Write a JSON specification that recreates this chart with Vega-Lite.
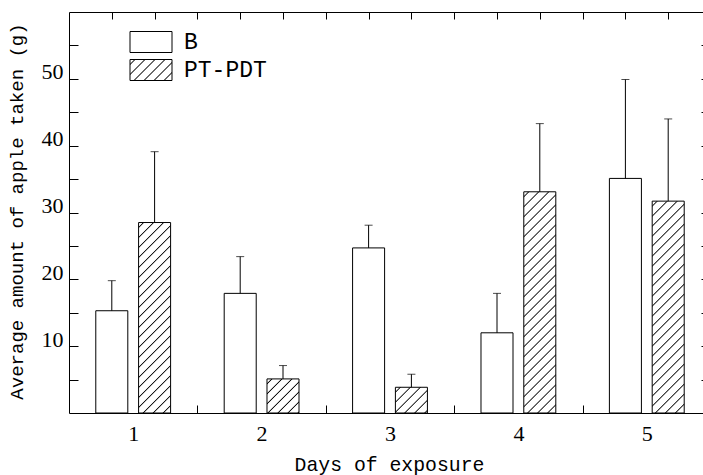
{
  "$schema": "https://vega.github.io/schema/vega-lite/v6.json",
  "autosize": {"type": "none"},
  "padding": {"left": 69, "top": 12, "right": 0, "bottom": 62},
  "width": 634,
  "height": 401,
  "background": "white",
  "data": {"values": [
    {"day": 1, "group": "B", "mean": 15.3, "upper": 19.8},
    {"day": 1, "group": "PT-PDT", "mean": 28.5, "upper": 39.1},
    {"day": 2, "group": "B", "mean": 17.9, "upper": 23.4},
    {"day": 2, "group": "PT-PDT", "mean": 5.1, "upper": 7.1},
    {"day": 3, "group": "B", "mean": 24.7, "upper": 28.1},
    {"day": 3, "group": "PT-PDT", "mean": 3.85, "upper": 5.8},
    {"day": 4, "group": "B", "mean": 12.0, "upper": 17.9},
    {"day": 4, "group": "PT-PDT", "mean": 33.1, "upper": 43.3},
    {"day": 5, "group": "B", "mean": 35.1, "upper": 49.9},
    {"day": 5, "group": "PT-PDT", "mean": 31.7, "upper": 44.0}
  ]},
  "resolve": {"scale": {"x": "independent"}, "axis": {"x": "independent", "y": "independent"}},
  "layer": [
    {
      "mark": {"type": "bar", "stroke": "black", "strokeWidth": 1},
      "encoding": {
        "x": {"field": "day", "type": "ordinal", "scale": {"range": [0, 642], "paddingInner": 0, "paddingOuter": 0}, "axis": null},
        "xOffset": {"field": "group", "type": "nominal", "scale": {"paddingInner": 0.252, "paddingOuter": 0.626}},
        "y": {"field": "mean", "type": "quantitative", "scale": {"domain": [0, 60], "nice": false},
          "axis": {"orient": "left", "values": [5, 10, 15, 20, 25, 30, 35, 40, 45, 50, 55], "tickSize": -9,
            "labelExpr": "datum.value % 10 == 0 ? datum.label : ''", "labelFont": "Liberation Serif", "labelFontSize": 22,
            "labelPadding": 15, "labelBaseline": "alphabetic", "labelOverlap": false, "labelBound": false,
            "title": "Average amount of apple taken (g)", "titleFont": "Liberation Mono", "titleFontSize": 19, "titleFontWeight": "normal",
            "titleX": -47, "titleY": 199, "titleBaseline": "alphabetic", "titleAlign": "center", "titleAngle": -90}},
        "fill": {
          "field": "group", "type": "nominal",
          "scale": {"range": ["#ffffff", {"expr": "{gradient: 'linear', x1: 0, y1: 0, x2: 1.219, y2: 0.6095, stops: [{offset: 0.05938, color: '#fff'}, {offset: 0.07813, color: '#000'}, {offset: 0.09688, color: '#fff'}, {offset: 0.21563, color: '#fff'}, {offset: 0.23438, color: '#000'}, {offset: 0.25313, color: '#fff'}, {offset: 0.37188, color: '#fff'}, {offset: 0.39063, color: '#000'}, {offset: 0.40938, color: '#fff'}, {offset: 0.52813, color: '#fff'}, {offset: 0.54688, color: '#000'}, {offset: 0.56563, color: '#fff'}, {offset: 0.68438, color: '#fff'}, {offset: 0.70313, color: '#000'}, {offset: 0.72188, color: '#fff'}, {offset: 0.84063, color: '#fff'}, {offset: 0.85938, color: '#000'}, {offset: 0.87813, color: '#fff'}]}"}]},
          "legend": {"orient": "none", "legendX": 70.5, "legendY": 18.5, "title": null, "padding": 0,
            "symbolType": "M-2,-1H2V1H-2Z", "symbolSize": 441, "symbolStrokeColor": "black", "symbolStrokeWidth": 1,
            "labelFont": "Liberation Mono", "labelFontSize": 23, "labelColor": "black", "labelOffset": 21.5, "rowPadding": 3},
          "condition": [
            {"test": "datum.group == 'PT-PDT' && datum.day == 1", "value": {"gradient": "linear", "x1": 0, "y1": 0, "x2": 0.2195, "y2": 1.307, "stops": [
              {"offset": 0.01484, "color": "#fff"}, {"offset": 0.01953, "color": "#000"}, {"offset": 0.02422, "color": "#fff"},
              {"offset": 0.05391, "color": "#fff"}, {"offset": 0.05859, "color": "#000"}, {"offset": 0.06328, "color": "#fff"},
              {"offset": 0.09297, "color": "#fff"}, {"offset": 0.09766, "color": "#000"}, {"offset": 0.10234, "color": "#fff"},
              {"offset": 0.13203, "color": "#fff"}, {"offset": 0.13672, "color": "#000"}, {"offset": 0.14141, "color": "#fff"},
              {"offset": 0.17109, "color": "#fff"}, {"offset": 0.17578, "color": "#000"}, {"offset": 0.18047, "color": "#fff"},
              {"offset": 0.21016, "color": "#fff"}, {"offset": 0.21484, "color": "#000"}, {"offset": 0.21953, "color": "#fff"},
              {"offset": 0.24922, "color": "#fff"}, {"offset": 0.25391, "color": "#000"}, {"offset": 0.25859, "color": "#fff"},
              {"offset": 0.28828, "color": "#fff"}, {"offset": 0.29297, "color": "#000"}, {"offset": 0.29766, "color": "#fff"},
              {"offset": 0.32734, "color": "#fff"}, {"offset": 0.33203, "color": "#000"}, {"offset": 0.33672, "color": "#fff"},
              {"offset": 0.36641, "color": "#fff"}, {"offset": 0.37109, "color": "#000"}, {"offset": 0.37578, "color": "#fff"},
              {"offset": 0.40547, "color": "#fff"}, {"offset": 0.41016, "color": "#000"}, {"offset": 0.41484, "color": "#fff"},
              {"offset": 0.44453, "color": "#fff"}, {"offset": 0.44922, "color": "#000"}, {"offset": 0.45391, "color": "#fff"},
              {"offset": 0.48359, "color": "#fff"}, {"offset": 0.48828, "color": "#000"}, {"offset": 0.49297, "color": "#fff"},
              {"offset": 0.52266, "color": "#fff"}, {"offset": 0.52734, "color": "#000"}, {"offset": 0.53203, "color": "#fff"},
              {"offset": 0.56172, "color": "#fff"}, {"offset": 0.56641, "color": "#000"}, {"offset": 0.57109, "color": "#fff"},
              {"offset": 0.60078, "color": "#fff"}, {"offset": 0.60547, "color": "#000"}, {"offset": 0.61016, "color": "#fff"},
              {"offset": 0.63984, "color": "#fff"}, {"offset": 0.64453, "color": "#000"}, {"offset": 0.64922, "color": "#fff"},
              {"offset": 0.67891, "color": "#fff"}, {"offset": 0.68359, "color": "#000"}, {"offset": 0.68828, "color": "#fff"},
              {"offset": 0.71797, "color": "#fff"}, {"offset": 0.72266, "color": "#000"}, {"offset": 0.72734, "color": "#fff"},
              {"offset": 0.75703, "color": "#fff"}, {"offset": 0.76172, "color": "#000"}, {"offset": 0.76641, "color": "#fff"},
              {"offset": 0.79609, "color": "#fff"}, {"offset": 0.80078, "color": "#000"}, {"offset": 0.80547, "color": "#fff"},
              {"offset": 0.83516, "color": "#fff"}, {"offset": 0.83984, "color": "#000"}, {"offset": 0.84453, "color": "#fff"},
              {"offset": 0.87422, "color": "#fff"}, {"offset": 0.87891, "color": "#000"}, {"offset": 0.88359, "color": "#fff"}
            ]}},
            {"test": "datum.group == 'PT-PDT' && datum.day == 2", "value": {"gradient": "linear", "x1": 0, "y1": 0, "x2": 3.746, "y2": 3.992, "stops": [
              {"offset": 0.01484, "color": "#fff"}, {"offset": 0.01953, "color": "#000"}, {"offset": 0.02422, "color": "#fff"},
              {"offset": 0.05391, "color": "#fff"}, {"offset": 0.05859, "color": "#000"}, {"offset": 0.06328, "color": "#fff"},
              {"offset": 0.09297, "color": "#fff"}, {"offset": 0.09766, "color": "#000"}, {"offset": 0.10234, "color": "#fff"},
              {"offset": 0.13203, "color": "#fff"}, {"offset": 0.13672, "color": "#000"}, {"offset": 0.14141, "color": "#fff"},
              {"offset": 0.17109, "color": "#fff"}, {"offset": 0.17578, "color": "#000"}, {"offset": 0.18047, "color": "#fff"},
              {"offset": 0.21016, "color": "#fff"}, {"offset": 0.21484, "color": "#000"}, {"offset": 0.21953, "color": "#fff"},
              {"offset": 0.24922, "color": "#fff"}, {"offset": 0.25391, "color": "#000"}, {"offset": 0.25859, "color": "#fff"}
            ]}},
            {"test": "datum.group == 'PT-PDT' && datum.day == 3", "value": {"gradient": "linear", "x1": 0, "y1": 0, "x2": 4.863, "y2": 3.906, "stops": [
              {"offset": 0.01484, "color": "#fff"}, {"offset": 0.01953, "color": "#000"}, {"offset": 0.02422, "color": "#fff"},
              {"offset": 0.05391, "color": "#fff"}, {"offset": 0.05859, "color": "#000"}, {"offset": 0.06328, "color": "#fff"},
              {"offset": 0.09297, "color": "#fff"}, {"offset": 0.09766, "color": "#000"}, {"offset": 0.10234, "color": "#fff"},
              {"offset": 0.13203, "color": "#fff"}, {"offset": 0.13672, "color": "#000"}, {"offset": 0.14141, "color": "#fff"},
              {"offset": 0.17109, "color": "#fff"}, {"offset": 0.17578, "color": "#000"}, {"offset": 0.18047, "color": "#fff"},
              {"offset": 0.21016, "color": "#fff"}, {"offset": 0.21484, "color": "#000"}, {"offset": 0.21953, "color": "#fff"}
            ]}},
            {"test": "datum.group == 'PT-PDT' && datum.day == 4", "value": {"gradient": "linear", "x1": 0, "y1": 0, "x2": 0.164, "y2": 1.1336, "stops": [
              {"offset": 0.01484, "color": "#fff"}, {"offset": 0.01953, "color": "#000"}, {"offset": 0.02422, "color": "#fff"},
              {"offset": 0.05391, "color": "#fff"}, {"offset": 0.05859, "color": "#000"}, {"offset": 0.06328, "color": "#fff"},
              {"offset": 0.09297, "color": "#fff"}, {"offset": 0.09766, "color": "#000"}, {"offset": 0.10234, "color": "#fff"},
              {"offset": 0.13203, "color": "#fff"}, {"offset": 0.13672, "color": "#000"}, {"offset": 0.14141, "color": "#fff"},
              {"offset": 0.17109, "color": "#fff"}, {"offset": 0.17578, "color": "#000"}, {"offset": 0.18047, "color": "#fff"},
              {"offset": 0.21016, "color": "#fff"}, {"offset": 0.21484, "color": "#000"}, {"offset": 0.21953, "color": "#fff"},
              {"offset": 0.24922, "color": "#fff"}, {"offset": 0.25391, "color": "#000"}, {"offset": 0.25859, "color": "#fff"},
              {"offset": 0.28828, "color": "#fff"}, {"offset": 0.29297, "color": "#000"}, {"offset": 0.29766, "color": "#fff"},
              {"offset": 0.32734, "color": "#fff"}, {"offset": 0.33203, "color": "#000"}, {"offset": 0.33672, "color": "#fff"},
              {"offset": 0.36641, "color": "#fff"}, {"offset": 0.37109, "color": "#000"}, {"offset": 0.37578, "color": "#fff"},
              {"offset": 0.40547, "color": "#fff"}, {"offset": 0.41016, "color": "#000"}, {"offset": 0.41484, "color": "#fff"},
              {"offset": 0.44453, "color": "#fff"}, {"offset": 0.44922, "color": "#000"}, {"offset": 0.45391, "color": "#fff"},
              {"offset": 0.48359, "color": "#fff"}, {"offset": 0.48828, "color": "#000"}, {"offset": 0.49297, "color": "#fff"},
              {"offset": 0.52266, "color": "#fff"}, {"offset": 0.52734, "color": "#000"}, {"offset": 0.53203, "color": "#fff"},
              {"offset": 0.56172, "color": "#fff"}, {"offset": 0.56641, "color": "#000"}, {"offset": 0.57109, "color": "#fff"},
              {"offset": 0.60078, "color": "#fff"}, {"offset": 0.60547, "color": "#000"}, {"offset": 0.61016, "color": "#fff"},
              {"offset": 0.63984, "color": "#fff"}, {"offset": 0.64453, "color": "#000"}, {"offset": 0.64922, "color": "#fff"},
              {"offset": 0.67891, "color": "#fff"}, {"offset": 0.68359, "color": "#000"}, {"offset": 0.68828, "color": "#fff"},
              {"offset": 0.71797, "color": "#fff"}, {"offset": 0.72266, "color": "#000"}, {"offset": 0.72734, "color": "#fff"},
              {"offset": 0.75703, "color": "#fff"}, {"offset": 0.76172, "color": "#000"}, {"offset": 0.76641, "color": "#fff"},
              {"offset": 0.79609, "color": "#fff"}, {"offset": 0.80078, "color": "#000"}, {"offset": 0.80547, "color": "#fff"},
              {"offset": 0.83516, "color": "#fff"}, {"offset": 0.83984, "color": "#000"}, {"offset": 0.84453, "color": "#fff"},
              {"offset": 0.87422, "color": "#fff"}, {"offset": 0.87891, "color": "#000"}, {"offset": 0.88359, "color": "#fff"},
              {"offset": 0.91328, "color": "#fff"}, {"offset": 0.91797, "color": "#000"}, {"offset": 0.92266, "color": "#fff"},
              {"offset": 0.95234, "color": "#fff"}, {"offset": 0.95703, "color": "#000"}, {"offset": 0.96172, "color": "#fff"},
              {"offset": 0.99141, "color": "#fff"}, {"offset": 0.99609, "color": "#000"}, {"offset": 1, "color": "#fff"}
            ]}},
            {"test": "datum.group == 'PT-PDT' && datum.day == 5", "value": {"gradient": "linear", "x1": 0, "y1": 0, "x2": 0.1784, "y2": 1.1812, "stops": [
              {"offset": 0.01484, "color": "#fff"}, {"offset": 0.01953, "color": "#000"}, {"offset": 0.02422, "color": "#fff"},
              {"offset": 0.05391, "color": "#fff"}, {"offset": 0.05859, "color": "#000"}, {"offset": 0.06328, "color": "#fff"},
              {"offset": 0.09297, "color": "#fff"}, {"offset": 0.09766, "color": "#000"}, {"offset": 0.10234, "color": "#fff"},
              {"offset": 0.13203, "color": "#fff"}, {"offset": 0.13672, "color": "#000"}, {"offset": 0.14141, "color": "#fff"},
              {"offset": 0.17109, "color": "#fff"}, {"offset": 0.17578, "color": "#000"}, {"offset": 0.18047, "color": "#fff"},
              {"offset": 0.21016, "color": "#fff"}, {"offset": 0.21484, "color": "#000"}, {"offset": 0.21953, "color": "#fff"},
              {"offset": 0.24922, "color": "#fff"}, {"offset": 0.25391, "color": "#000"}, {"offset": 0.25859, "color": "#fff"},
              {"offset": 0.28828, "color": "#fff"}, {"offset": 0.29297, "color": "#000"}, {"offset": 0.29766, "color": "#fff"},
              {"offset": 0.32734, "color": "#fff"}, {"offset": 0.33203, "color": "#000"}, {"offset": 0.33672, "color": "#fff"},
              {"offset": 0.36641, "color": "#fff"}, {"offset": 0.37109, "color": "#000"}, {"offset": 0.37578, "color": "#fff"},
              {"offset": 0.40547, "color": "#fff"}, {"offset": 0.41016, "color": "#000"}, {"offset": 0.41484, "color": "#fff"},
              {"offset": 0.44453, "color": "#fff"}, {"offset": 0.44922, "color": "#000"}, {"offset": 0.45391, "color": "#fff"},
              {"offset": 0.48359, "color": "#fff"}, {"offset": 0.48828, "color": "#000"}, {"offset": 0.49297, "color": "#fff"},
              {"offset": 0.52266, "color": "#fff"}, {"offset": 0.52734, "color": "#000"}, {"offset": 0.53203, "color": "#fff"},
              {"offset": 0.56172, "color": "#fff"}, {"offset": 0.56641, "color": "#000"}, {"offset": 0.57109, "color": "#fff"},
              {"offset": 0.60078, "color": "#fff"}, {"offset": 0.60547, "color": "#000"}, {"offset": 0.61016, "color": "#fff"},
              {"offset": 0.63984, "color": "#fff"}, {"offset": 0.64453, "color": "#000"}, {"offset": 0.64922, "color": "#fff"},
              {"offset": 0.67891, "color": "#fff"}, {"offset": 0.68359, "color": "#000"}, {"offset": 0.68828, "color": "#fff"},
              {"offset": 0.71797, "color": "#fff"}, {"offset": 0.72266, "color": "#000"}, {"offset": 0.72734, "color": "#fff"},
              {"offset": 0.75703, "color": "#fff"}, {"offset": 0.76172, "color": "#000"}, {"offset": 0.76641, "color": "#fff"},
              {"offset": 0.79609, "color": "#fff"}, {"offset": 0.80078, "color": "#000"}, {"offset": 0.80547, "color": "#fff"},
              {"offset": 0.83516, "color": "#fff"}, {"offset": 0.83984, "color": "#000"}, {"offset": 0.84453, "color": "#fff"},
              {"offset": 0.87422, "color": "#fff"}, {"offset": 0.87891, "color": "#000"}, {"offset": 0.88359, "color": "#fff"},
              {"offset": 0.91328, "color": "#fff"}, {"offset": 0.91797, "color": "#000"}, {"offset": 0.92266, "color": "#fff"},
              {"offset": 0.95234, "color": "#fff"}, {"offset": 0.95703, "color": "#000"}, {"offset": 0.96172, "color": "#fff"}
            ]}}
          ]
        }
      }
    },
    {
      "mark": {"type": "rule", "color": "black", "strokeWidth": 1},
      "encoding": {
        "x": {"field": "day", "type": "ordinal", "scale": {"range": [0, 642], "paddingInner": 0, "paddingOuter": 0}, "axis": null},
        "xOffset": {"field": "group", "type": "nominal"},
        "y": {"field": "mean", "type": "quantitative", "scale": {"domain": [0, 60], "nice": false}, "axis": null},
        "y2": {"field": "upper"}
      }
    },
    {
      "mark": {"type": "tick", "color": "black", "thickness": 1, "size": 8, "orient": "horizontal"},
      "encoding": {
        "x": {"field": "day", "type": "ordinal", "scale": {"range": [0, 642], "paddingInner": 0, "paddingOuter": 0}, "axis": null},
        "xOffset": {"field": "group", "type": "nominal"},
        "y": {"field": "upper", "type": "quantitative", "scale": {"domain": [0, 60], "nice": false}, "axis": null}
      }
    },
    {
      "mark": {"type": "point", "opacity": 0},
      "encoding": {
        "x": {"field": "day", "type": "quantitative", "scale": {"domain": [0.5, 5.5], "range": [0, 642], "nice": false, "zero": false},
          "axis": {"orient": "bottom", "values": [0.8333, 1, 1.1667, 1.5, 1.8333, 2, 2.1667, 2.5, 2.8333, 3, 3.1667, 3.5, 3.8333, 4, 4.1667, 4.5, 4.8333, 5, 5.1667],
            "tickSize": -8, "tickOpacity": {"condition": {"test": "datum.value % 1 == 0", "value": 0}, "value": 1},
            "labelExpr": "datum.value % 1 == 0 ? datum.value + '' : ''", "labelFont": "Liberation Serif", "labelFontSize": 22,
            "labelPadding": 35, "labelBaseline": "alphabetic", "labelOverlap": false, "labelBound": false, "labelFlush": false,
            "title": "Days of exposure", "titleFont": "Liberation Mono", "titleFontSize": 19.8, "titleFontWeight": "normal",
            "titleX": 320, "titleY": 57, "titleBaseline": "alphabetic", "titleAlign": "center"}},
        "y": {"field": "mean", "type": "quantitative", "scale": {"domain": [0, 60], "nice": false},
          "axis": {"orient": "right", "offset": 8, "values": [5, 10, 15, 20, 25, 30, 35, 40, 45, 50, 55], "tickSize": -10, "labels": false, "title": null}}
      }
    },
    {
      "mark": {"type": "point", "opacity": 0},
      "encoding": {
        "x": {"field": "day", "type": "quantitative", "scale": {"domain": [0.5, 5.5], "range": [0, 642], "nice": false, "zero": false},
          "axis": {"orient": "top", "values": [0.8333, 1.1667, 1.5, 1.8333, 2.1667, 2.5, 2.8333, 3.1667, 3.5, 3.8333, 4.1667, 4.5, 4.8333, 5.1667],
            "tickSize": -7, "labels": false, "title": null}},
        "y": {"field": "mean", "type": "quantitative", "scale": {"domain": [0, 60], "nice": false}, "axis": null}
      }
    }
  ],
  "config": {
    "view": {"stroke": null},
    "axis": {"grid": false, "domainColor": "black", "tickColor": "black", "labelColor": "black", "titleColor": "black", "domainWidth": 1, "tickWidth": 1}
  }
}
